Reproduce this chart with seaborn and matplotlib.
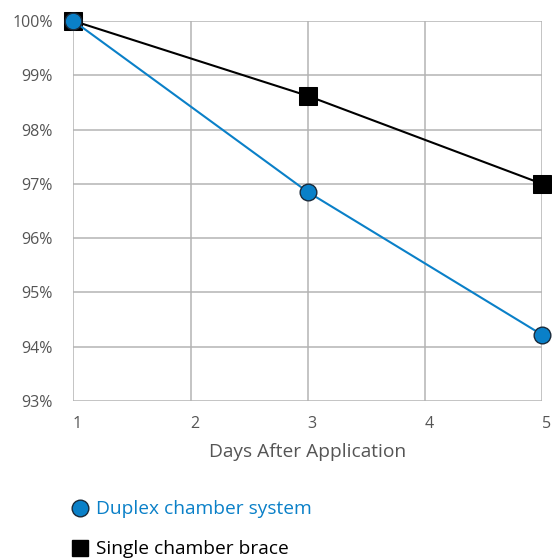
import matplotlib
matplotlib.use("Agg")
import matplotlib.pyplot as plt
import matplotlib.transforms as mtransforms
from matplotlib.lines import Line2D
import seaborn as sns
import pandas as pd

days = [1, 3, 5]
duplex = [100.0, 96.85, 94.22]
single = [100.0, 98.62, 97.0]
x_ticks = [1, 2, 3, 4, 5]
y_ticks = [93, 94, 95, 96, 97, 98, 99, 100]
y_labels = [f"{v}%" for v in y_ticks]
series_names = ["Duplex chamber system", "Single chamber brace"]

BLUE = "#0a80c8"
GRID = "#b4b4b4"
TXT = "#555555"

sns.set_theme(style="white")
plt.rcParams['font.family'] = ['Open Sans', 'DejaVu Sans']

df = pd.DataFrame({
    "day": days * 2,
    "value": duplex + single,
    "series": [series_names[0]] * 3 + [series_names[1]] * 3,
})

fig = plt.figure(figsize=(5.52, 5.59), dpi=100)
ax = fig.add_axes([0.133, 0.2826, 0.849, 0.680])

sns.lineplot(data=df[df.series == series_names[1]], x="day", y="value", ax=ax,
             color="black", lw=1.5, marker="s", markersize=12.5,
             markerfacecolor="black", markeredgecolor="black", legend=False,
             zorder=3, clip_on=False)
sns.lineplot(data=df[df.series == series_names[0]], x="day", y="value", ax=ax,
             color=BLUE, lw=1.5, marker="o", markersize=12,
             markerfacecolor=BLUE, markeredgecolor="#1a2a3a", markeredgewidth=1.0,
             legend=False, zorder=4, clip_on=False)

ax.set_xlim(1, 5)
ax.set_ylim(93, 100)
ax.set_xticks(x_ticks)
ax.set_xticklabels([str(v) for v in x_ticks])
ax.set_yticks(y_ticks)
ax.set_yticklabels(y_labels)
ax.grid(True, color=GRID, lw=1.1)
ax.set_axisbelow(True)
for s in ax.spines.values():
    s.set_visible(False)

ax.tick_params(axis="both", length=0, colors=TXT, labelsize=11.5)
ax.tick_params(axis="y", pad=15)
ax.tick_params(axis="x", pad=11)
offset = mtransforms.ScaledTranslation(4 / 100, 0, fig.dpi_scale_trans)
for lab in ax.get_xticklabels():
    lab.set_transform(lab.get_transform() + offset)

ax.set_xlabel("Days After Application", color=TXT, fontsize=13.8, labelpad=8)
ax.set_ylabel("")
for lab in ax.get_xticklabels() + ax.get_yticklabels():
    lab.set_color(TXT)

handles = [
    Line2D([], [], ls="none", marker="o", markersize=12, markerfacecolor=BLUE,
           markeredgecolor="#1a2a3a", markeredgewidth=1.0),
    Line2D([], [], ls="none", marker="s", markersize=12, markerfacecolor="black",
           markeredgecolor="black"),
]
leg = fig.legend(handles, series_names, loc="upper left",
                 bbox_to_anchor=(0.128, 0.105), frameon=False,
                 fontsize=13.8, labelspacing=1.15, handletextpad=0.3,
                 handlelength=1.0, borderpad=0, borderaxespad=0)
leg.get_texts()[0].set_color(BLUE)
leg.get_texts()[1].set_color("black")

fig.savefig("out.png", dpi=100)
